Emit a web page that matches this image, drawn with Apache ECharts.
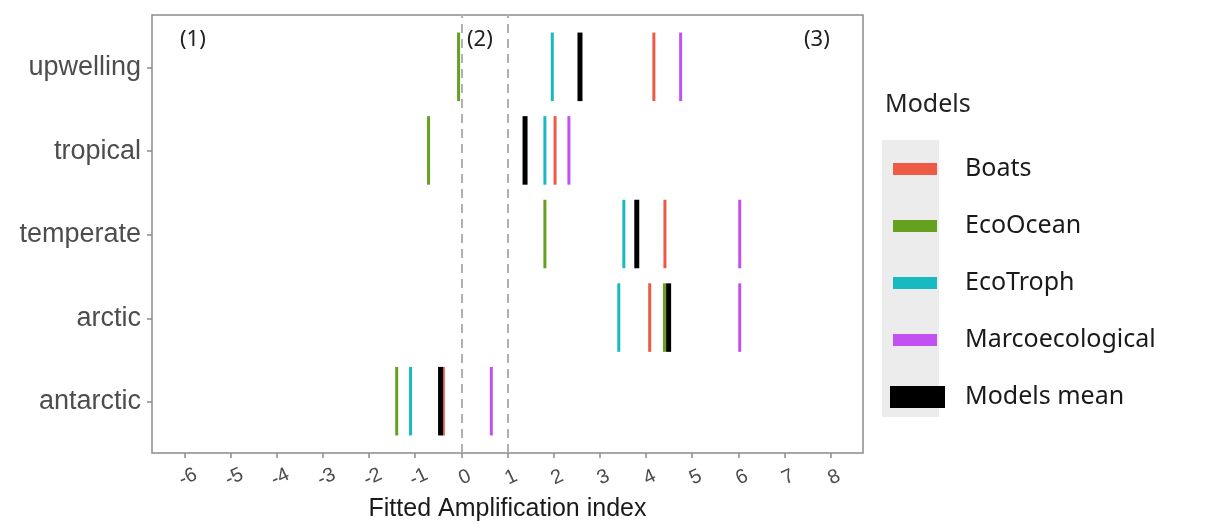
<!DOCTYPE html>
<html>
<head>
<meta charset="utf-8">
<script src="https://cdn.jsdelivr.net/npm/echarts@6/dist/echarts.min.js"></script>
<style>
	html, body { margin: 0; padding: 0; background: #fff; }
	#container { width: 1215px; height: 524px; }
</style>
</head>
<body>
<div id="container"></div>
<script>
// regions, top to bottom
var regions = ['upwelling', 'tropical', 'temperate', 'arctic', 'antarctic'];
var models = ['Boats', 'EcoOcean', 'EcoTroph', 'Marcoecological', 'Models mean'];
var modelColors = ['#ee5a43', '#65a11f', '#19b9c1', '#c251f2', '#000000'];

// fitted amplification index per region (same order as regions)
var boats = [4.17, 2.03, 4.41, 4.08, -0.39];
var ecoOcean = [-0.06, -0.71, 1.81, 4.40, -1.40];
var ecoTroph = [1.97, 1.81, 3.52, 3.41, -1.10];
var marco = [4.75, 2.33, 6.03, 6.03, 0.65];
var modelsMean = [2.57, 1.38, 3.80, 4.49, -0.45];

var xTicks = [-6, -5, -4, -3, -2, -1, 0, 1, 2, 3, 4, 5, 6, 7, 8];
var refLines = [0, 1];

initChart();

function initChart() {
	var dom = document.getElementById("container");
	var myChart = echarts.init(dom);
	var values = [boats, ecoOcean, ecoTroph, marco, modelsMean];
	var yTicks = regions.map(function(r, i) { return regions.length - i; });

	var series = models.map(function(name, k) {
		var lw = name === 'Models mean' ? 5 : 3;
		return {
			name: name,
			type: 'custom',
			itemStyle: { color: modelColors[k] },
			z: name === 'Models mean' ? 5 : 3,
			data: values[k].map(function(v, i) { return [v, regions.length - i]; }),
			renderItem: function(params, api) {
				var x = api.value(0), y = api.value(1);
				var p1 = api.coord([x, y + 0.42]);
				var p2 = api.coord([x, y - 0.4]);
				return {
					type: 'line',
					shape: { x1: p1[0], y1: p1[1], x2: p2[0], y2: p2[1] },
					style: { stroke: api.visual('color'), lineWidth: lw }
				};
			}
		};
	});

	// dashed reference lines at 0 and 1
	series.push({
		type: 'line',
		data: [],
		silent: true,
		markLine: {
			symbol: 'none',
			silent: true,
			label: { show: false },
			lineStyle: { color: '#b0b0b0', type: [9, 6], width: 2 },
			data: refLines.map(function(v) { return { xAxis: v }; })
		}
	});

	// thin key for the models, thick one for the mean
	var thinKey = 'path://M0,0M3,5L47,5L47,17L3,17ZM55,22';

	var option = {
		animation: false,
		grid: {
			left: 152, right: 352, top: 15, bottom: 71,
			outerBoundsMode: 'none',
			show: true, borderColor: '#8c8c8c', borderWidth: 1.5
		},
		legend: {
			orient: 'vertical',
			left: 885,
			top: 151,
			itemWidth: 55,
			itemHeight: 22,
			itemGap: 31,
			textStyle: { fontSize: 25, color: '#1a1a1a', fontFamily: 'Noto Sans', lineHeight: 26, padding: [0, 0, 0, 15] },
			data: models.map(function(m, k) {
				return {
					name: m,
					icon: m === 'Models mean' ? 'rect' : thinKey,
					itemStyle: { color: modelColors[k] }
				};
			})
		},
		graphic: [
			{ type: 'rect', left: 882, top: 140, shape: { width: 57, height: 277 }, style: { fill: '#ececec' }, z: -1 },
			{ type: 'text', left: 885, top: 92, style: { text: 'Models', fontSize: 25, fill: '#222', fontFamily: 'Noto Sans' } },
			{ type: 'text', left: 180, top: 29, style: { text: '(1)', fontSize: 22, fill: '#222', fontFamily: 'Noto Sans' } },
			{ type: 'text', left: 467, top: 29, style: { text: '(2)', fontSize: 22, fill: '#222', fontFamily: 'Noto Sans' } },
			{ type: 'text', left: 804, top: 29, style: { text: '(3)', fontSize: 22, fill: '#222', fontFamily: 'Noto Sans' } }
		],
		xAxis: {
			type: 'value',
			min: -6.7,
			max: 8.7,
			name: 'Fitted Amplification index',
			nameLocation: 'middle',
			nameGap: 38,
			nameTextStyle: { fontSize: 25, color: '#1a1a1a', fontFamily: 'Liberation Sans' },
			splitLine: { show: false },
			axisLine: { show: false, onZero: false },
			axisTick: { show: true, length: 5, customValues: xTicks, lineStyle: { color: '#8c8c8c', width: 1.5 } },
			axisLabel: {
				customValues: xTicks,
				rotate: 25,
				align: 'center',
				margin: 26,
				padding: [0, 0, 0, 8],
				fontSize: 20,
				color: '#4d4d4d',
				fontFamily: 'Liberation Sans'
			}
		},
		yAxis: {
			type: 'value',
			min: 0.39,
			max: 5.63,
			splitLine: { show: false },
			axisLine: { show: false, onZero: false },
			axisTick: { show: true, length: 5, customValues: yTicks, lineStyle: { color: '#8c8c8c', width: 1.5 } },
			axisLabel: {
				customValues: yTicks,
				margin: 11,
				fontSize: 27,
				color: '#4d4d4d',
				fontFamily: 'Liberation Sans',
				formatter: function(v) { return regions[regions.length - Math.round(v)] || ''; }
			}
		},
		series: series
	};

	if (option && typeof option === "object") {
		myChart.setOption(option, true);
	}
}
</script>
</body>
</html>
